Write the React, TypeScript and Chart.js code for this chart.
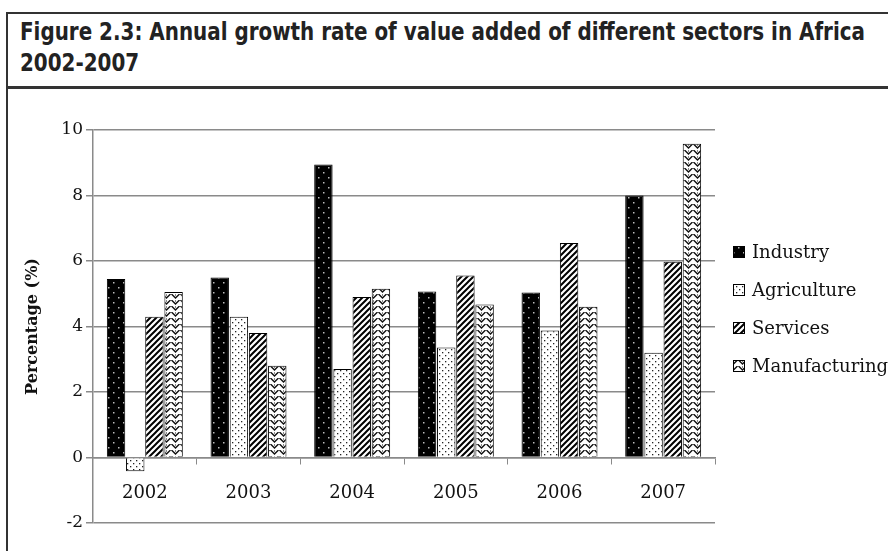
import React, { useEffect, useLayoutEffect, useRef } from 'react';
import { Chart, registerables } from 'chart.js';

Chart.register(...registerables);

const years = ['2002', '2003', '2004', '2005', '2006', '2007'];
const seriesNames = ['Industry', 'Agriculture', 'Services', 'Manufacturing'];
const industry = [5.45, 5.5, 8.95, 5.07, 5.04, 8.0];
const agriculture = [-0.42, 4.3, 2.7, 3.36, 3.88, 3.2];
const services = [4.3, 3.8, 4.9, 5.56, 6.55, 5.98];
const manufacturing = [5.05, 2.8, 5.15, 4.67, 4.6, 9.58];
const yMin = -2;
const yMax = 10;
const yStep = 2;
const titleLine1 = 'Figure 2.3: Annual growth rate of value added of different sectors in Africa';
const titleLine2 = '2002-2007';
const yTitle = 'Percentage (%)';

function tile(w: number, h: number, draw: (c: CanvasRenderingContext2D) => void): CanvasPattern {
  const cv = document.createElement('canvas');
  cv.width = w;
  cv.height = h;
  const c = cv.getContext('2d')!;
  draw(c);
  return c.createPattern(cv, 'repeat')!;
}

function makePatterns(): CanvasPattern[] {
  const ind = tile(10, 10, (c) => {
    c.fillStyle = '#000';
    c.fillRect(0, 0, 10, 10);
    c.fillStyle = '#bbb';
    c.fillRect(3, 2, 1.5, 1.5);
    c.fillRect(8, 7, 1.5, 1.5);
  });
  const agr = tile(6, 6, (c) => {
    c.fillStyle = '#fff';
    c.fillRect(0, 0, 6, 6);
    c.fillStyle = '#222';
    c.fillRect(1, 1, 1.3, 1.3);
    c.fillRect(4, 4, 1.3, 1.3);
  });
  const srv = tile(6, 6, (c) => {
    c.fillStyle = '#fff';
    c.fillRect(0, 0, 6, 6);
    c.strokeStyle = '#000';
    c.lineWidth = 2;
    c.beginPath();
    c.moveTo(-1, 7);
    c.lineTo(7, -1);
    c.moveTo(-4, 4);
    c.lineTo(4, -4);
    c.moveTo(2, 10);
    c.lineTo(10, 2);
    c.stroke();
  });
  const man = tile(9, 6, (c) => {
    c.fillStyle = '#fff';
    c.fillRect(0, 0, 9, 6);
    c.strokeStyle = '#111';
    c.lineWidth = 1.4;
    c.beginPath();
    c.moveTo(0.5, 0);
    c.lineTo(4.5, 4);
    c.lineTo(8.5, 0);
    c.stroke();
    c.fillStyle = '#111';
    c.fillRect(4, 0.5, 1, 1);
  });
  return [ind, agr, srv, man];
}

const legendPlugin = {
  id: 'sideLegend',
  afterDraw(chart: any) {
    const { ctx, chartArea } = chart;
    ctx.save();
    chart.data.datasets.forEach((ds: any, i: number) => {
      const y = chartArea.top + 122 + i * 38;
      const x = chartArea.right + 18;
      ctx.fillStyle = ds.backgroundColor;
      ctx.fillRect(x, y - 6, 12, 12);
      ctx.strokeStyle = '#000';
      ctx.lineWidth = 1;
      ctx.strokeRect(x + 0.5, y - 5.5, 11, 11);
      ctx.fillStyle = '#111';
      ctx.font = '18px "DejaVu Serif"';
      ctx.textBaseline = 'middle';
      ctx.textAlign = 'left';
      ctx.fillText(ds.label, x + 19, y + 1);
    });
    ctx.restore();
  },
};

export default function App() {
  const ref = useRef<HTMLCanvasElement>(null);
  const titleRef = useRef<HTMLDivElement>(null);

  useLayoutEffect(() => {
    const el = titleRef.current;
    if (!el) return;
    const line = el.firstElementChild as HTMLElement;
    const w = line.getBoundingClientRect().width;
    if (w > 0) {
      el.style.transform = `scaleX(${845 / w})`;
    }
  }, []);

  useEffect(() => {
    const pats = makePatterns();
    const values = [industry, agriculture, services, manufacturing];
    const chart = new Chart(ref.current!, {
      type: 'bar',
      data: {
        labels: years,
        datasets: seriesNames.map((name, i) => ({
          label: name,
          data: values[i],
          backgroundColor: pats[i] as any,
          borderColor: '#000',
          borderWidth: 1,
          categoryPercentage: 0.74,
          barPercentage: 0.96,
        })),
      },
      options: {
        responsive: false,
        animation: false,
        layout: { padding: { left: 20, top: 130, right: 173, bottom: 28 } },
        plugins: {
          legend: { display: false },
          tooltip: { enabled: false },
        },
        scales: {
          x: {
            position: { y: 0 } as any,
            offset: true,
            grid: { drawOnChartArea: false, drawTicks: true, tickLength: 6, color: '#8a8a8a', offset: true },
            border: { display: true, color: '#8a8a8a', width: 1.5 },
            ticks: { padding: 19, color: '#111', font: { family: 'DejaVu Serif', size: 18 } },
          },
          y: {
            min: yMin,
            max: yMax,
            afterFit: (s: any) => {
              s.width = 73;
            },
            ticks: { stepSize: yStep, padding: 3, color: '#111', font: { family: 'DejaVu Serif', size: 17 } },
            grid: { color: '#8a8a8a', lineWidth: 1.5, tickLength: 7 },
            border: { display: true, color: '#8a8a8a', width: 1.5 },
            title: {
              display: true,
              text: yTitle,
              color: '#111',
              font: { family: 'DejaVu Serif', size: 16, weight: 'bold' },
              padding: { top: 3, bottom: 0 },
            },
          },
        },
      },
      plugins: [legendPlugin],
    });
    return () => chart.destroy();
  }, []);

  const titleStyle: React.CSSProperties = {
    position: 'absolute',
    left: 20,
    top: 17,
    fontFamily: '"Liberation Sans Narrow", "DejaVu Sans Condensed", "Open Sans", sans-serif',
    fontWeight: 'bold',
    fontSize: 24,
    lineHeight: '31px',
    color: '#222',
    whiteSpace: 'nowrap',
    transformOrigin: '0 0',
  };

  return (
    <div style={{ position: 'absolute', left: 0, top: 0, width: 888, height: 551, background: '#fff', overflow: 'hidden' }}>
      <div style={{ position: 'absolute', left: 6, top: 12, width: 882, height: 2, background: '#333' }} />
      <div style={{ position: 'absolute', left: 6, top: 12, width: 2, height: 539, background: '#333' }} />
      <div style={{ position: 'absolute', left: 6, top: 86, width: 882, height: 3, background: '#333' }} />
      <div ref={titleRef} style={titleStyle}>
        <span style={{ display: 'inline-block' }}>{titleLine1}</span>
        <br />
        <span>{titleLine2}</span>
      </div>
      <canvas ref={ref} width={888} height={551} style={{ position: 'absolute', left: 0, top: 0 }} />
    </div>
  );
}
